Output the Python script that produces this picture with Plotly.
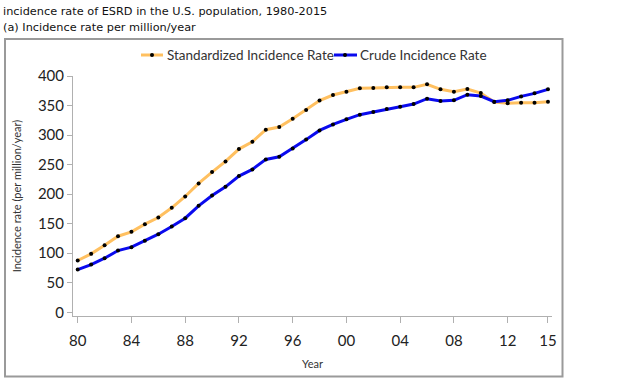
import plotly.graph_objects as go

years = list(range(1980, 2016))
standardized = [87.6, 98.9, 113.6, 128.8, 136.2, 149.2, 160.5, 176.8, 196.0, 218.1,
                237.3, 255.4, 276.3, 288.7, 309.0, 313.6, 327.7, 342.4, 358.5, 367.8,
                373.4, 379.1, 379.7, 380.8, 380.8, 380.8, 385.9, 377.4, 373.4, 378.0,
                371.2, 355.9, 353.7, 354.8, 354.8, 356.5]
crude = [72.3, 80.8, 91.5, 104.5, 110.2, 120.9, 132.2, 145.2, 159.3, 180.2,
         197.7, 212.4, 230.5, 241.8, 258.8, 263.3, 277.4, 292.3, 307.9, 318.1,
         326.6, 334.5, 339.0, 344.1, 348.0, 352.5, 361.6, 357.6, 358.8, 368.4,
         366.1, 356.5, 358.8, 365.5, 370.6, 377.4]
tick_years = [1980, 1984, 1988, 1992, 1996, 2000, 2004, 2008, 2012, 2015]
tick_labels = ["80", "84", "88", "92", "96", "00", "04", "08", "12", "15"]
y_ticks = [0, 50, 100, 150, 200, 250, 300, 350, 400]
series_names = ["Standardized Incidence Rate", "Crude Incidence Rate"]
series_colors = ["#FFC060", "#0A0AEE"]

W, H = 623, 386
L, R, T, B = 73, 71, 76, 70
pw, ph = W - L - R, H - T - B


def px(x):
    return (x - L) / pw


def py(y):
    return (H - B - y) / ph


fig = go.Figure()
for name, vals, col in zip(series_names, [standardized, crude], series_colors):
    fig.add_trace(go.Scatter(
        x=years, y=vals, mode="lines+markers", name=name,
        line=dict(color=col, width=3),
        marker=dict(color="black", size=4),
        showlegend=False,
    ))

axis_font = dict(family="Lato, Open Sans, sans-serif", size=15, color="#222")
fig.update_xaxes(
    range=[1979.65, 2015.3], tickvals=tick_years, ticktext=tick_labels,
    showgrid=False, zeroline=False, showline=True, linecolor="#b0b0b0", linewidth=1,
    ticks="outside", ticklen=6, tickcolor="#b0b0b0", tickfont=axis_font,
    ticklabelstandoff=5,
    title=dict(text="Year", font=dict(family="Lato, Open Sans, sans-serif", size=11, color="#333"), standoff=12),
)
fig.update_yaxes(
    range=[-6.3, 400], tickvals=y_ticks,
    showgrid=False, zeroline=False, showline=True, linecolor="#b0b0b0", linewidth=1,
    ticks="outside", ticklen=5, tickcolor="#b0b0b0", tickfont=axis_font,
    title=dict(text="Incidence rate (per million/year)",
               font=dict(family="Lato, Open Sans, sans-serif", size=11, color="#333"), standoff=14),
)

# frame
fig.add_shape(type="rect", xref="paper", yref="paper",
              x0=px(5), x1=px(562.5), y0=py(376.5), y1=py(39),
              line=dict(color="#9a9a9a", width=2), fillcolor="rgba(0,0,0,0)", layer="below")

# titles
fig.add_annotation(text="incidence rate of ESRD in the U.S. population, 1980-2015",
                   xref="paper", yref="paper", x=px(1), y=py(3), xanchor="left", yanchor="top",
                   showarrow=False, font=dict(family="DejaVu Sans", size=11.3, color="#111"))
fig.add_annotation(text="(a) Incidence rate per million/year",
                   xref="paper", yref="paper", x=px(1), y=py(19), xanchor="left", yanchor="top",
                   showarrow=False, font=dict(family="DejaVu Sans", size=11.3, color="#111"))

# legend (drawn manually to match the compact legend of the reference)
leg_y = 55
leg_items = [(141, 163, 152, 165), (334, 357, 345, 358)]
for (x0, x1, xd, xt), name, col in zip(leg_items, series_names, series_colors):
    fig.add_shape(type="line", xref="paper", yref="paper",
                  x0=px(x0), x1=px(x1), y0=py(leg_y), y1=py(leg_y),
                  line=dict(color=col, width=3))
    fig.add_shape(type="circle", xref="paper", yref="paper",
                  x0=px(xd - 2), x1=px(xd + 2), y0=py(leg_y + 2), y1=py(leg_y - 2),
                  line=dict(color="black", width=0), fillcolor="black")
    fig.add_annotation(text=name, xref="paper", yref="paper", x=px(xt), y=py(leg_y),
                       xanchor="left", yanchor="middle", showarrow=False,
                       font=dict(family="Lato, Open Sans, sans-serif", size=13.5, color="#333"))

fig.update_layout(
    width=W, height=H, margin=dict(l=L, r=R, t=T, b=B),
    paper_bgcolor="white", plot_bgcolor="white",
    showlegend=False,
)

fig.write_html("out.html", config={"displayModeBar": False},
               post_script="document.body.style.margin='0';")
